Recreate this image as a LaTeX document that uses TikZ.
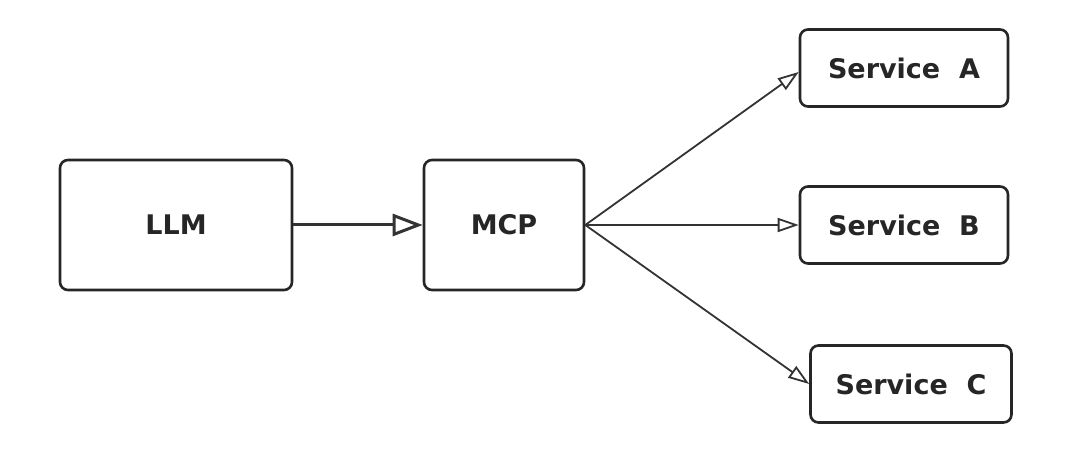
\documentclass[tikz,border=0pt]{standalone}
\usepackage{fontspec}
\setmainfont{DejaVu Sans}
\usetikzlibrary{arrows.meta}

\begin{document}
\begin{tikzpicture}[x=1pt,y=-1pt,
    box/.style={draw=black!85, line width=2.6pt, rounded corners=8pt,
      fill=white, font=\fontsize{27}{31}\selectfont\bfseries, text=black!85},
    link/.style={draw=black!80, line width=1.8pt,
      -{Triangle[open,length=21pt,width=14pt,line width=1.8pt]}}]
    \useasboundingbox (0,0) rectangle (1068,454);
    \node[box, minimum width=232pt, minimum height=130pt] (llm) at (176,225) {LLM};
    \node[box, minimum width=160pt, minimum height=130pt] (mcp) at (504,225) {MCP};
    \node[box, minimum width=208pt, minimum height=77pt] (sa) at (904,68) {Service\ \ A};
    \node[box, minimum width=208pt, minimum height=77pt] (sb) at (904,225) {Service\ \ B};
    \node[box, minimum width=201pt, minimum height=77pt] (sc) at (911,384) {Service\ \ C};
    \draw[draw=black!80, line width=3pt,
      -{Triangle[open,length=30pt,width=22pt,line width=3pt]}] (llm) -- (mcp);
    \draw[link] (mcp.east) -- ([yshift=-4pt]sa.west);
    \draw[link] (mcp.east) -- (sb.west);
    \draw[link] (mcp.east) -- (sc.west);
\end{tikzpicture}
\end{document}
